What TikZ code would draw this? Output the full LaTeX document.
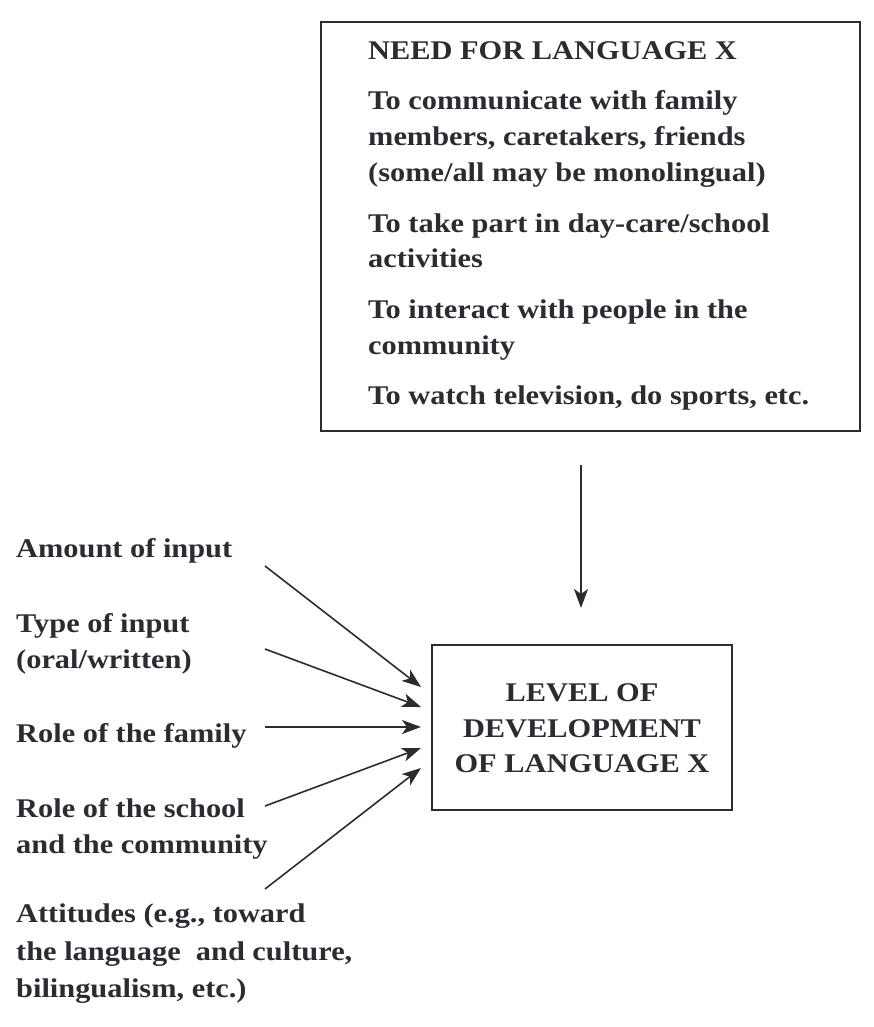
\documentclass[tikz,border=0pt]{standalone}
\usepackage{fontspec}
\setmainfont{Liberation Serif}[FakeStretch=1.125]
\usetikzlibrary{arrows.meta}
\definecolor{ink}{HTML}{2A2C33}
\begin{document}
\begin{tikzpicture}[x=1pt,y=-1pt,
  txt/.style={inner sep=0pt,text=ink,font=\fontsize{27}{36}\selectfont\bfseries},
  lbl/.style={txt,anchor=base west},
  boxline/.style={draw=ink,line width=1.6pt},
  arr/.style={draw=ink,line width=1.6pt,-{Stealth[length=19pt,width=14pt,inset=5pt]}}]
\useasboundingbox (0,0) rectangle (873,1027);
% top box
\draw[boxline] (321,22) rectangle (860,431);
\node[lbl] (n1) at (368,60) {NEED FOR LANGUAGE X};
\node[lbl] (n2) at (368,110) {To communicate with family};
\node[lbl] (n3) at (368,146) {members, caretakers, friends};
\node[lbl] (n4) at (368,182) {(some/all may be monolingual)};
\node[lbl] (n5) at (368,232) {To take part in day-care/school};
\node[lbl] (n6) at (368,267) {activities};
\node[lbl] (n7) at (368,318) {To interact with people in the};
\node[lbl] (n8) at (368,354) {community};
\node[lbl] (n9) at (368,404) {To watch television, do sports, etc.};
% bottom box
\node[boxline,minimum width=300pt,minimum height=165pt,inner sep=0pt] (lvl) at (582,727.5) {};
\node[txt,anchor=base] (l1) at (582,701) {LEVEL OF};
\node[txt,anchor=base] (l2) at (582,737) {DEVELOPMENT};
\node[txt,anchor=base] (l3) at (582,772) {OF LANGUAGE X};
% vertical arrow
\coordinate (vs) at (581,465);
\coordinate (ve) at (581,608);
\draw[arr] (vs) -- (ve);
% left labels
\node[lbl] (a1) at (16,557) {Amount of input};
\node[lbl] (a2) at (16,632) {Type of input};
\node[lbl] (a2b) at (16,668) {(oral/written)};
\node[lbl] (a3) at (16,742) {Role of the family};
\node[lbl] (a4) at (16,817) {Role of the school};
\node[lbl] (a4b) at (16,853) {and the community};
\node[lbl] (a5) at (16,922) {Attitudes (e.g., toward};
\node[lbl] (a5b) at (16,960) {the language\ \ and culture,};
\node[lbl] (a5c) at (16,997) {bilingualism, etc.)};
% arrow ends
\coordinate (s1) at (265,566); \coordinate (e1) at (421,687);
\coordinate (s2) at (265,649); \coordinate (e2) at (421,707);
\coordinate (s3) at (265,727); \coordinate (e3) at (421,727);
\coordinate (s4) at (265,806); \coordinate (e4) at (421,748);
\coordinate (s5) at (265,889); \coordinate (e5) at (421,768);
\foreach \i in {1,...,5} {\draw[arr] (s\i) -- (e\i);}
\end{tikzpicture}
\end{document}
